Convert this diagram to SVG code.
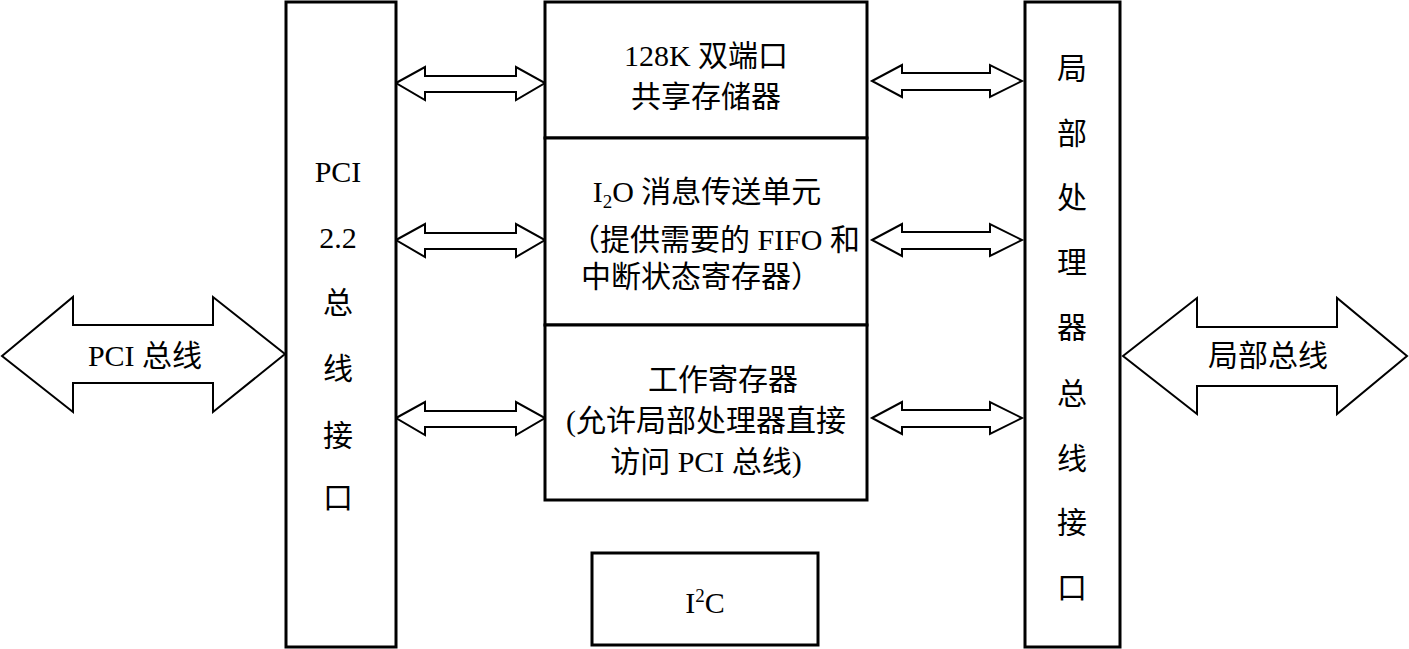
<svg xmlns="http://www.w3.org/2000/svg" width="1409" height="649" viewBox="0 0 1409 649">
<style>
.box{fill:#fff;stroke:#000;stroke-width:3}
.arr{fill:#fff;stroke:#000;stroke-width:2;stroke-linejoin:miter}
text{font-family:"Liberation Serif","Noto Sans CJK SC",serif;font-size:30px;fill:#000;text-anchor:middle}
</style>
<rect width="1409" height="649" fill="#fff"/>
<g id="connectors">
<polygon class="arr" points="2,356 73,297 73,325 213,325 213,297 285,354 213,412 213,383 73,383 73,412"/>
<polygon class="arr" points="1123,356 1197,298 1197,327 1337,327 1337,298 1407,356 1337,414 1337,386 1197,386 1197,414"/>
<polygon class="arr" points="396,83 425,67 425,76 516,76 516,67 545,83 516,100 516,92 425,92 425,100"/>
<polygon class="arr" points="396,240 425,224 425,233 516,233 516,224 545,240 516,257 516,249 425,249 425,257"/>
<polygon class="arr" points="396,418 425,402 425,411 516,411 516,402 545,418 516,435 516,427 425,427 425,435"/>
<polygon class="arr" points="872,81 902,65 902,73 990,73 990,65 1022,81 990,97 990,90 902,90 902,97"/>
<polygon class="arr" points="872,240 902,224 902,232 990,232 990,224 1022,240 990,256 990,249 902,249 902,256"/>
<polygon class="arr" points="872,418 902,402 902,410 990,410 990,402 1022,418 990,434 990,427 902,427 902,434"/>
</g>
<g id="pci-bus-label"><text x="145" y="366">PCI 总线</text></g>
<g id="local-bus-label"><text x="1268" y="366">局部总线</text></g>
<g id="pci-interface">
<rect class="box" x="286" y="2" width="110" height="645"/>
<text x="338" y="182">PCI</text>
<text x="338" y="248">2.2</text>
<text x="338" y="313">总</text>
<text x="338" y="379">线</text>
<text x="338" y="446">接</text>
<text x="338" y="508">口</text>
</g>
<g id="shared-memory">
<rect class="box" x="545" y="2" width="322" height="136"/>
<text x="706" y="66">128K 双端口</text>
<text x="706" y="107">共享存储器</text>
</g>
<g id="i2o-unit">
<rect class="box" x="545" y="138" width="322" height="187"/>
<text x="707" y="202">I<tspan font-size="19" dy="6">2</tspan><tspan dy="-6">O 消息传送单元</tspan></text>
<text x="715" y="250">（提供需要的 FIFO 和</text>
<text x="701" y="287">中断状态寄存器）</text>
</g>
<g id="working-registers">
<rect class="box" x="545" y="325" width="322" height="175"/>
<text x="723" y="390">工作寄存器</text>
<text x="706" y="431">(允许局部处理器直接</text>
<text x="706" y="472">访问 PCI 总线)</text>
</g>
<g id="local-interface">
<rect class="box" x="1025" y="2" width="95" height="645"/>
<text x="1072" y="79">局</text>
<text x="1072" y="144">部</text>
<text x="1072" y="208">处</text>
<text x="1072" y="273">理</text>
<text x="1072" y="338">器</text>
<text x="1072" y="404">总</text>
<text x="1072" y="469">线</text>
<text x="1072" y="533">接</text>
<text x="1072" y="598">口</text>
</g>
<g id="i2c">
<rect class="box" x="592" y="553" width="226" height="92"/>
<text x="705" y="613">I<tspan font-size="19" dy="-11">2</tspan><tspan dy="11">C</tspan></text>
</g>
</svg>
